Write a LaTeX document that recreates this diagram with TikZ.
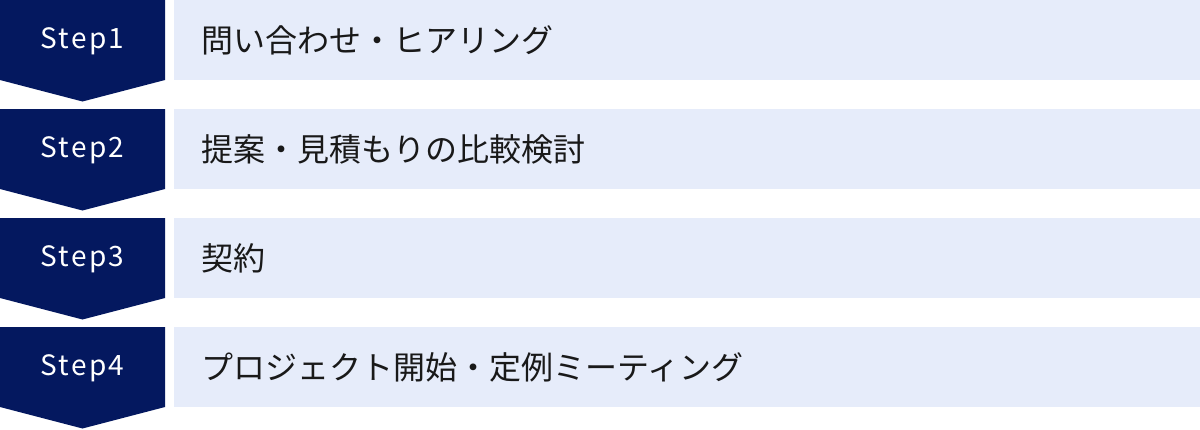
\documentclass[tikz,border=0pt]{standalone}
\usepackage{fontspec}
\setmainfont{Noto Sans CJK JP}
\newfontfamily\jpfont{Noto Sans CJK JP}
\newfontfamily\stepfont[LetterSpace=8]{Noto Sans CJK JP}
\definecolor{stepnavy}{RGB}{4,24,95}
\definecolor{barblue}{RGB}{230,236,250}
\tikzset{every picture/.style={line width=0.75pt}}
\tikzset{
  steplabel/.style={anchor=center,inner sep=0.75pt,text=white,font=\stepfont\fontsize{21}{25}\selectfont},
  barlabel/.style={anchor=west,inner sep=0.75pt,text=black!90,font=\jpfont\fontsize{24}{28}\selectfont},
  stepshape/.style={fill=stepnavy,draw=none},
  barshape/.style={fill=barblue,draw=none}
}
\begin{document}
\begin{tikzpicture}[x=0.75pt,y=0.75pt,yscale=-1,xscale=1]
\useasboundingbox (0,0) rectangle (1200,429); %set diagram size 1200 x 429

%Shape: Chevron [id:step1]
\draw [stepshape] (0,0) -- (165,0) -- (165,80) -- (82.5,101.5) -- (0,80) -- cycle ;
%Shape: Rectangle [id:bar1]
\draw [barshape] (174,0) rectangle (1200,80) ;
%Shape: Chevron [id:step2]
\draw [stepshape] (0,109) -- (165,109) -- (165,189) -- (82.5,210.5) -- (0,189) -- cycle ;
%Shape: Rectangle [id:bar2]
\draw [barshape] (174,109) rectangle (1200,189) ;
%Shape: Chevron [id:step3]
\draw [stepshape] (0,218) -- (165,218) -- (165,298) -- (82.5,319.5) -- (0,298) -- cycle ;
%Shape: Rectangle [id:bar3]
\draw [barshape] (174,218) rectangle (1200,298) ;
%Shape: Chevron [id:step4]
\draw [stepshape] (0,327) -- (165,327) -- (165,407) -- (82.5,428.5) -- (0,407) -- cycle ;
%Shape: Rectangle [id:bar4]
\draw [barshape] (174,327) rectangle (1200,407) ;

% Text Node
\draw (82.5,41) node [steplabel] (s1) {Step1};
% Text Node
\draw (82.5,150) node [steplabel] (s2) {Step2};
% Text Node
\draw (82.5,259) node [steplabel] (s3) {Step3};
% Text Node
\draw (82.5,368) node [steplabel] (s4) {Step4};
% Text Node
\draw (200,40) node [barlabel] (t1) {問い合わせ・ヒアリング};
% Text Node
\draw (200,149) node [barlabel] (t2) {提案・見積もりの比較検討};
% Text Node
\draw (200,258) node [barlabel] (t3) {契約};
% Text Node
\draw (200,367) node [barlabel] (t4) {プロジェクト開始・定例ミーティング};

\end{tikzpicture}
\end{document}
